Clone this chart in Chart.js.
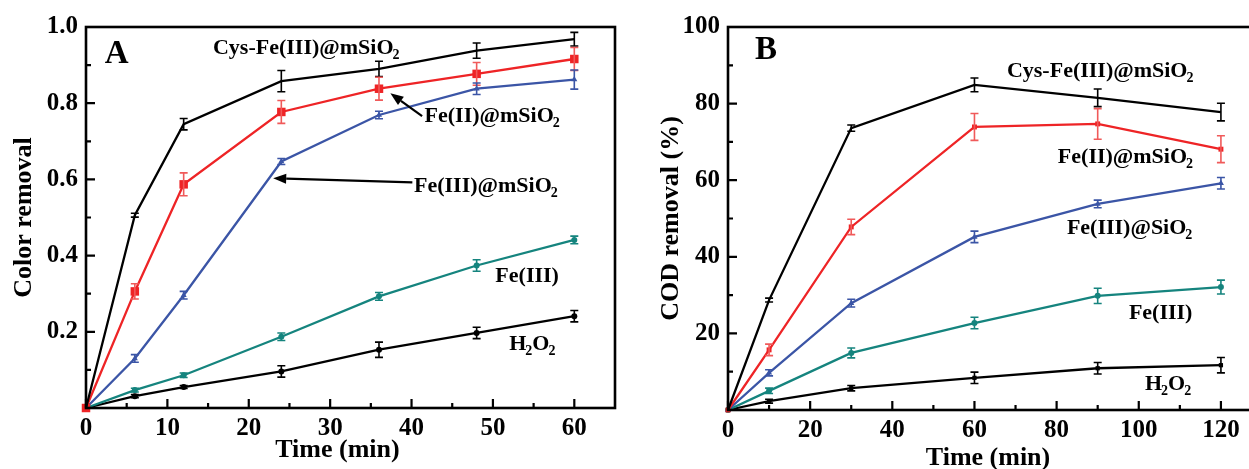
<!DOCTYPE html>
<html>
<head>
<meta charset="utf-8">
<script src="https://cdn.jsdelivr.net/npm/chart.js@4.4.0/dist/chart.umd.min.js"></script>
<style>
  body { margin: 0; width: 1249px; height: 469px; overflow: hidden; background: #fff; position: relative; }
  canvas { position: absolute; top: 0; }
  #ChartA { left: 0; }
  #ChartB { left: 640px; }
</style>
</head>
<body>
<canvas id="ChartA" width="640" height="469"></canvas>
<canvas id="ChartB" width="640" height="469"></canvas>
<script>
// ---- panel A: colour removal ----
const timeA = [0, 6, 12, 24, 36, 48, 60];
const cysA = [0, 0.506, 0.745, 0.858, 0.89, 0.938, 0.968];
const cysAErr = [0, 0.005, 0.015, 0.028, 0.02, 0.02, 0.018];
const fe2A = [0, 0.306, 0.587, 0.777, 0.838, 0.877, 0.916];
const fe2AErr = [0, 0.02, 0.03, 0.03, 0.03, 0.03, 0.03];
const fe3mA = [0, 0.13, 0.296, 0.647, 0.769, 0.838, 0.862];
const fe3mAErr = [0, 0.01, 0.01, 0.008, 0.01, 0.015, 0.025];
const fe3A = [0, 0.047, 0.086, 0.187, 0.293, 0.374, 0.441];
const fe3AErr = [0, 0.005, 0.006, 0.01, 0.01, 0.015, 0.01];
const h2o2A = [0, 0.031, 0.055, 0.096, 0.153, 0.197, 0.241];
const h2o2AErr = [0, 0.004, 0.004, 0.015, 0.02, 0.015, 0.015];
const xTicksA = [0, 10, 20, 30, 40, 50, 60];
const xMinorA = [5, 15, 25, 35, 45, 55];
const yTicksA = [0.2, 0.4, 0.6, 0.8, 1.0];
const yLabelsA = ['0.2', '0.4', '0.6', '0.8', '1.0'];
const yMinorA = [0.1, 0.3, 0.5, 0.7, 0.9];

// ---- panel B: COD removal ----
const timeB = [0, 10, 30, 60, 90, 120];
const cysB = [0, 28.7, 73.6, 84.9, 81.5, 77.8];
const cysBErr = [0, 0.5, 0.8, 1.8, 2.3, 2.3];
const fe2B = [0, 15.7, 47.8, 73.9, 74.7, 68.1];
const fe2BErr = [0, 1.5, 2.0, 3.5, 4.0, 3.5];
const fe3sB = [0, 9.7, 27.9, 45.2, 53.8, 59.2];
const fe3sBErr = [0, 0.8, 1.0, 1.5, 1.0, 1.5];
const fe3B = [0, 5.0, 14.9, 22.7, 29.8, 32.1];
const fe3BErr = [0, 0.7, 1.3, 1.5, 2.0, 1.8];
const h2o2B = [0, 2.3, 5.7, 8.4, 10.9, 11.7];
const h2o2BErr = [0, 0.5, 0.7, 1.5, 1.5, 2.0];
const xTicksB = [0, 20, 40, 60, 80, 100, 120];
const xMinorB = [10, 30, 50, 70, 90, 110];
const yTicksB = [20, 40, 60, 80, 100];
const yMinorB = [10, 30, 50, 70, 90];

const BLACK = '#000000';
const RED = '#ee2426';
const RED_ERR = '#f05a5a';
const BLUE = '#3b55a6';
const TEAL = '#15847e';

const SERIF = '"Liberation Serif", "DejaVu Serif", serif';

function pts(xs, ys) {
    return xs.map((x, i) => ({x: x, y: ys[i]}));
}

function series(label, xs, ys, errs, color, errColor, style, radius) {
    return {
        label: label,
        data: pts(xs, ys),
        errors: errs,
        errColor: errColor,
        borderColor: color,
        backgroundColor: color,
        borderWidth: 2.3,
        pointStyle: style,
        pointRadius: radius,
        pointBorderWidth: 0,
        tension: 0,
        clip: false
    };
}

// draws "Fe(III)@mSiO_2" style labels, char after '_' is a subscript
function drawRich(ctx, text, x, y, size) {
    let cx = x;
    const parts = text.split('_');
    parts.forEach((p, i) => {
        let main = p;
        if (i > 0) {
            const sub = p.charAt(0);
            main = p.slice(1);
            ctx.font = 'bold ' + Math.round(size * 0.62) + 'px ' + SERIF;
            ctx.fillText(sub, cx - 1, y + size * 0.22);
            cx += ctx.measureText(sub).width - 1;
        }
        ctx.font = 'bold ' + size + 'px ' + SERIF;
        ctx.fillText(main, cx, y);
        cx += ctx.measureText(main).width;
    });
}

function drawArrow(ctx, x1, y1, x2, y2) {
    const ang = Math.atan2(y2 - y1, x2 - x1);
    const hl = 13, hw = 5;
    const bx = x2 - hl * Math.cos(ang), by = y2 - hl * Math.sin(ang);
    ctx.lineWidth = 2.2;
    ctx.beginPath();
    ctx.moveTo(x1, y1);
    ctx.lineTo(bx, by);
    ctx.stroke();
    ctx.beginPath();
    ctx.moveTo(x2, y2);
    ctx.lineTo(bx - hw * Math.sin(ang), by + hw * Math.cos(ang));
    ctx.lineTo(bx + hw * Math.sin(ang), by - hw * Math.cos(ang));
    ctx.closePath();
    ctx.fill();
}

const decorPlugin = {
    id: 'decor',
    afterDatasetsDraw(chart) {
        const ctx = chart.ctx;
        const xs = chart.scales.x, ys = chart.scales.y;
        const area = chart.chartArea;
        const cfg = chart.options.plugins.decor;
        ctx.save();

        // error bars
        chart.data.datasets.forEach((ds, di) => {
            const meta = chart.getDatasetMeta(di);
            ctx.strokeStyle = ds.errColor;
            ctx.lineWidth = 1.6;
            meta.data.forEach((el, i) => {
                const e = ds.errors[i];
                if (!e) return;
                const v = ds.data[i].y;
                const yt = ys.getPixelForValue(v + e), yb = ys.getPixelForValue(v - e);
                ctx.beginPath();
                ctx.moveTo(el.x, yt); ctx.lineTo(el.x, yb);
                ctx.moveTo(el.x - 4, yt); ctx.lineTo(el.x + 4, yt);
                ctx.moveTo(el.x - 4, yb); ctx.lineTo(el.x + 4, yb);
                ctx.stroke();
            });
        });

        // frame
        ctx.strokeStyle = BLACK;
        ctx.lineWidth = 2.6;
        ctx.strokeRect(area.left, area.top, area.right - area.left, area.bottom - area.top);

        // inward ticks
        ctx.lineWidth = 2.2;
        ctx.beginPath();
        cfg.xMajor.forEach(v => { const p = xs.getPixelForValue(v); ctx.moveTo(p, area.bottom); ctx.lineTo(p, area.bottom - 9); });
        cfg.xMinor.forEach(v => { const p = xs.getPixelForValue(v); ctx.moveTo(p, area.bottom); ctx.lineTo(p, area.bottom - 5); });
        cfg.yMajor.forEach(v => { const p = ys.getPixelForValue(v); ctx.moveTo(area.left, p); ctx.lineTo(area.left + 9, p); });
        cfg.yMinor.forEach(v => { const p = ys.getPixelForValue(v); ctx.moveTo(area.left, p); ctx.lineTo(area.left + 5, p); });
        ctx.stroke();

        // x axis title
        ctx.fillStyle = BLACK;
        ctx.textBaseline = 'alphabetic';
        ctx.textAlign = 'center';
        ctx.font = 'bold 26px ' + SERIF;
        ctx.fillText('Time (min)', xs.getPixelForValue(cfg.xTitleAt), area.bottom + cfg.xTitleDrop);

        // labels
        ctx.textAlign = 'left';
        ctx.font = 'bold 33px ' + SERIF;
        ctx.fillText(cfg.letter.text, xs.getPixelForValue(cfg.letter.x), ys.getPixelForValue(cfg.letter.y));
        cfg.labels.forEach(l => {
            drawRich(ctx, l.text, xs.getPixelForValue(l.x), ys.getPixelForValue(l.y), 22);
        });
        (cfg.arrows || []).forEach(a => {
            drawArrow(ctx, xs.getPixelForValue(a[0]), ys.getPixelForValue(a[1]),
                           xs.getPixelForValue(a[2]), ys.getPixelForValue(a[3]));
        });
        ctx.restore();
    }
};

function make_chart(id, datasets, opts) {
    const ctx = document.getElementById(id).getContext('2d');
    const tickFont = {family: SERIF, size: 25, weight: 'bold'};
    const titleFont = {family: SERIF, size: 26, weight: 'bold'};
    return new Chart(ctx, {
        type: 'line',
        data: {datasets: datasets},
        plugins: [decorPlugin],
        options: {
            responsive: false,
            animation: false,
            layout: {padding: {top: 27, right: opts.padRight, left: 0, bottom: 0}},
            plugins: {
                legend: {display: false},
                tooltip: {enabled: false},
                decor: opts.decor
            },
            scales: {
                x: {
                    type: 'linear',
                    min: 0,
                    max: opts.xMax,
                    grid: {display: false, drawTicks: false},
                    border: {display: false},
                    afterBuildTicks: s => { s.ticks = opts.xTicks.map(v => ({value: v})); },
                    afterFit: s => { s.height = opts.xHeight; },
                    ticks: {color: BLACK, font: tickFont, padding: 6, autoSkip: false, maxRotation: 0,
                            callback: (v, i) => String(opts.xTicks[i])},
                    title: {display: false}
                },
                y: {
                    type: 'linear',
                    min: 0,
                    max: opts.yMax,
                    grid: {display: false, drawTicks: false},
                    border: {display: false},
                    afterBuildTicks: s => { s.ticks = opts.yTicks.map(v => ({value: v})); },
                    afterFit: s => { s.width = opts.yWidth; },
                    ticks: {color: BLACK, font: tickFont, padding: 8, autoSkip: false,
                            callback: (v, i) => opts.yLabels[i]},
                    title: {display: true, text: opts.yTitle, color: BLACK, font: titleFont,
                            padding: {top: opts.yTitlePad, bottom: 0}}
                }
            }
        }
    });
}

make_chart('ChartA', [
    series('Cys-Fe(III)@mSiO2', timeA, cysA, cysAErr, BLACK, BLACK, 'crossRot', 3),
    series('Fe(II)@mSiO2', timeA, fe2A, fe2AErr, RED, RED_ERR, 'rect', 6),
    series('Fe(III)@mSiO2', timeA, fe3mA, fe3mAErr, BLUE, BLUE, 'triangle', 3.5),
    series('Fe(III)', timeA, fe3A, fe3AErr, TEAL, TEAL, 'circle', 3),
    series('H2O2', timeA, h2o2A, h2o2AErr, BLACK, BLACK, 'circle', 3)
], {
    padRight: 25, xMax: 65, yMax: 1.0, xHeight: 61, yWidth: 86,
    xTicks: xTicksA, yTicks: yTicksA, yLabels: yLabelsA,
    yTitlePad: 9, yTitle: 'Color removal',
    decor: {
        xMajor: xTicksA, xMinor: xMinorA, yMajor: yTicksA, yMinor: yMinorA,
        xTitleAt: 30.9, xTitleDrop: 49,
        letter: {text: 'A', x: 2.3, y: 0.906},
        labels: [
            {text: 'Cys-Fe(III)@mSiO_2', x: 15.6, y: 0.93},
            {text: 'Fe(II)@mSiO_2', x: 41.6, y: 0.751},
            {text: 'Fe(III)@mSiO_2', x: 40.3, y: 0.566},
            {text: 'Fe(III)', x: 50.3, y: 0.332},
            {text: 'H_2O_2', x: 52.0, y: 0.153}
        ],
        arrows: [
            [41.3, 0.766, 37.4, 0.826],
            [40.1, 0.592, 23.0, 0.603]
        ]
    }
});

make_chart('ChartB', [
    series('Cys-Fe(III)@mSiO2', timeB, cysB, cysBErr, BLACK, BLACK, 'crossRot', 3),
    series('Fe(II)@mSiO2', timeB, fe2B, fe2BErr, RED, RED_ERR, 'rect', 3.5),
    series('Fe(III)@SiO2', timeB, fe3sB, fe3sBErr, BLUE, BLUE, 'triangle', 3.5),
    series('Fe(III)', timeB, fe3B, fe3BErr, TEAL, TEAL, 'circle', 3),
    series('H2O2', timeB, h2o2B, h2o2BErr, BLACK, BLACK, 'rect', 3)
], {
    padRight: 18, xMax: 130, yMax: 100, xHeight: 59, yWidth: 88,
    xTicks: xTicksB, yTicks: yTicksB, yLabels: yTicksB.map(String),
    yTitlePad: 16, yTitle: 'COD removal (%)',
    decor: {
        xMajor: xTicksB, xMinor: xMinorB, yMajor: yTicksB, yMinor: yMinorB,
        xTitleAt: 63.3, xTitleDrop: 55,
        letter: {text: 'B', x: 6.6, y: 91.6},
        labels: [
            {text: 'Cys-Fe(III)@mSiO_2', x: 67.9, y: 86.9},
            {text: 'Fe(II)@mSiO_2', x: 80.3, y: 64.5},
            {text: 'Fe(III)@SiO_2', x: 82.5, y: 46.0},
            {text: 'Fe(III)', x: 97.6, y: 23.8},
            {text: 'H_2O_2', x: 101.5, y: 5.2}
        ]
    }
});
</script>
</body>
</html>
